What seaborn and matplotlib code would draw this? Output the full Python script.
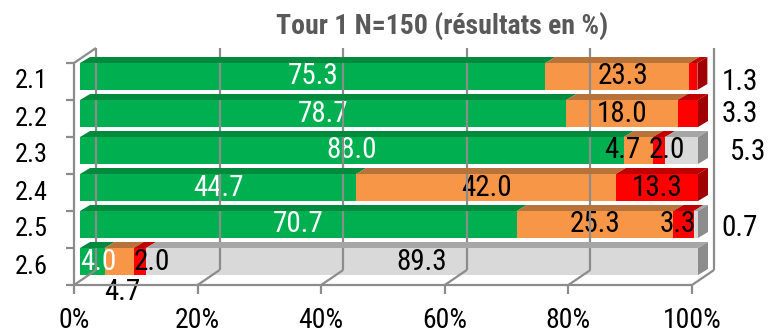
import matplotlib
matplotlib.use("Agg")
import matplotlib.pyplot as plt
import matplotlib.font_manager as fm
import seaborn as sns
import pandas as pd
import numpy as np
from matplotlib.patches import Polygon
from matplotlib.lines import Line2D

# ---------------- data ----------------
categories = ["2.1", "2.2", "2.3", "2.4", "2.5", "2.6"]
series_names = ["s1", "s2", "s3", "s4"]
green_vals = [75.3, 78.7, 88.0, 44.7, 70.7, 4.0]
orange_vals = [23.3, 18.0, 4.7, 42.0, 25.3, 4.7]
red_vals = [1.3, 3.3, 2.0, 13.3, 3.3, 2.0]
grey_vals = [0.0, 0.0, 5.3, 0.0, 0.7, 89.3]
x_ticks = [0, 20, 40, 60, 80, 100]
x_ticklabels = ["0%", "20%", "40%", "60%", "80%", "100%"]
title = "Tour 1 N=150 (résultats en %)"

# ---------------- style ----------------
front_cols = ["#00B050", "#F79646", "#FF0000", "#D9D9D9"]
top_cols = ["#008A3E", "#B8733A", "#C00000", "#A6A6A6"]
side_cols = ["#007A35", "#A0622F", "#A00000", "#8C8C8C"]
label_cols = ["white", "black", "black", "black"]

avail = {f.name for f in fm.fontManager.ttflist}
FONT = "Liberation Sans"
for cand in ["Liberation Sans Narrow", "Arial Narrow", "Roboto Condensed",
             "Archivo Narrow", "PT Sans Narrow", "Barlow Condensed"]:
    if cand in avail:
        FONT = cand
        break

sns.set_theme(style="white")
plt.rcParams["font.family"] = [FONT, "DejaVu Sans"]

W, H, DPI = 770, 333, 100
fig = plt.figure(figsize=(W / DPI, H / DPI), dpi=DPI)
# axes = front plane of the bars (pixels)
ax_l, ax_r, ax_t, ax_b = 80, 698, 58, 280
ax = fig.add_axes([ax_l / W, 1 - ax_b / H, (ax_r - ax_l) / W, (ax_b - ax_t) / H])

vals = [green_vals, orange_vals, red_vals, grey_vals]
cum = np.cumsum(np.array(vals), axis=0)
bar_h = 27 / 37

rows = []
for s, name in enumerate(series_names):
    for i, c in enumerate(categories):
        rows.append({"cat": c, "series": name, "cum": cum[s, i]})
df = pd.DataFrame(rows)

for s in reversed(range(4)):
    sub = df[df["series"] == series_names[s]]
    sns.barplot(data=sub, y="cat", x="cum", orient="h", color=front_cols[s],
                saturation=1, width=bar_h, ax=ax, zorder=2, linewidth=0)

ax.set_xlim(0, 100)
ax.set_ylim(len(categories) - 0.5, -0.5)
ax.set_axis_off()

T = ax.transData
def px(x, y):
    d = T.transform((x, y))
    return d[0], d[1]

D = (10, 6)  # bar depth offset in pixels
F = (-6, -5)  # front plane offset
B = (16, 10)  # back plane offset
gcol = "#8C8C8C"
glw = 1.6

def line(p, q, z=1, color=gcol, lw=glw):
    fig.add_artist(Line2D([p[0], q[0]], [p[1], q[1]], transform=None,
                          color=color, lw=lw, zorder=z, solid_capstyle="butt"))

ybot, ytop = len(categories) - 0.5, -0.5
# back wall gridlines + floor diagonals
for xv in x_ticks:
    b0 = px(xv, ybot); t0 = px(xv, ytop)
    line((b0[0] + B[0], b0[1] + B[1]), (t0[0] + B[0], t0[1] + B[1]), z=0.5)
    line((b0[0] + F[0], b0[1] + F[1]), (b0[0] + B[0], b0[1] + B[1]), z=0.5)
    # tick below front floor edge
    line((b0[0] + F[0], b0[1] + F[1]), (b0[0] + F[0], b0[1] + F[1] - 9), z=3)

# 3D faces of bars
for i in range(len(categories)):
    last = max(s for s in range(4) if vals[s][i] > 0)
    for s in range(4):
        v = vals[s][i]
        if v <= 0:
            continue
        left = cum[s, i] - v
        right = cum[s, i]
        yt = i - bar_h / 2
        yb = i + bar_h / 2
        lt = px(left, yt); rt = px(right, yt); rb = px(right, yb)
        top = Polygon([lt, rt, (rt[0] + D[0], rt[1] + D[1]), (lt[0] + D[0], lt[1] + D[1])],
                      closed=True, transform=None, facecolor=top_cols[s],
                      edgecolor="none", zorder=2.5)
        fig.add_artist(top)
        if s == last:
            side = Polygon([rt, rb, (rb[0] + D[0], rb[1] + D[1]), (rt[0] + D[0], rt[1] + D[1])],
                           closed=True, transform=None, facecolor=side_cols[s],
                           edgecolor="none", zorder=2.5)
            fig.add_artist(side)

# front frame edges
fb0 = px(0, ybot); ft0 = px(0, ytop); fb1 = px(100, ybot)
line((fb0[0] + F[0], fb0[1] + F[1]), (fb1[0] + F[0], fb1[1] + F[1]), z=3)
line((fb0[0] + F[0], fb0[1] + F[1]), (ft0[0] + F[0], ft0[1] + F[1]), z=3)
line((ft0[0] + F[0], ft0[1] + F[1]), (ft0[0] + B[0], ft0[1] + B[1]), z=3)
for k in range(len(categories) + 1):
    p = px(0, k - 0.5)
    line((p[0] + F[0] - 8, p[1] + F[1]), (p[0] + F[0], p[1] + F[1]), z=3)

# value labels: (row, series) -> pixel offsets (dx, dy)
label_offsets = {
    (0, 2): (47, -5), (1, 2): (52, 0), (2, 1): (-16, 0), (2, 2): (8, 0),
    (2, 3): (67, -1), (4, 2): (-6, 0), (4, 3): (44, -4), (5, 0): (6, 0),
    (5, 1): (3, -31), (5, 2): (12, 0), (0, 1): (6, 0),
}
for i in range(len(categories)):
    for s in range(4):
        v = vals[s][i]
        if v <= 0:
            continue
        xc = cum[s, i] - v / 2
        dx, dy = label_offsets.get((i, s), (0, 0))
        col = label_cols[s]
        if dx > 30:
            col = "black"
        ax.annotate(f"{v:.1f}", (xc, i), xytext=(dx, dy), textcoords="offset pixels",
                    ha="center", va="center", fontsize=21, color=col, zorder=5,
                    annotation_clip=False)

# category labels
for i, c in enumerate(categories):
    p = px(0, i)
    fig.text((p[0] - 32) / W, (p[1] - 5) / H, c, ha="right", va="center",
             fontsize=19, color="black")

# x tick labels
for xv, lab in zip(x_ticks, x_ticklabels):
    p = px(xv, ybot)
    fig.text((p[0] + F[0]) / W, (p[1] - 40) / H, lab, ha="center", va="center",
             fontsize=20, color="black")

fig.text(442 / W, 1 - 26 / H, title, ha="center", va="center", fontsize=20,
         fontweight="bold", color="#595959")

fig.savefig("out.png", dpi=DPI)
